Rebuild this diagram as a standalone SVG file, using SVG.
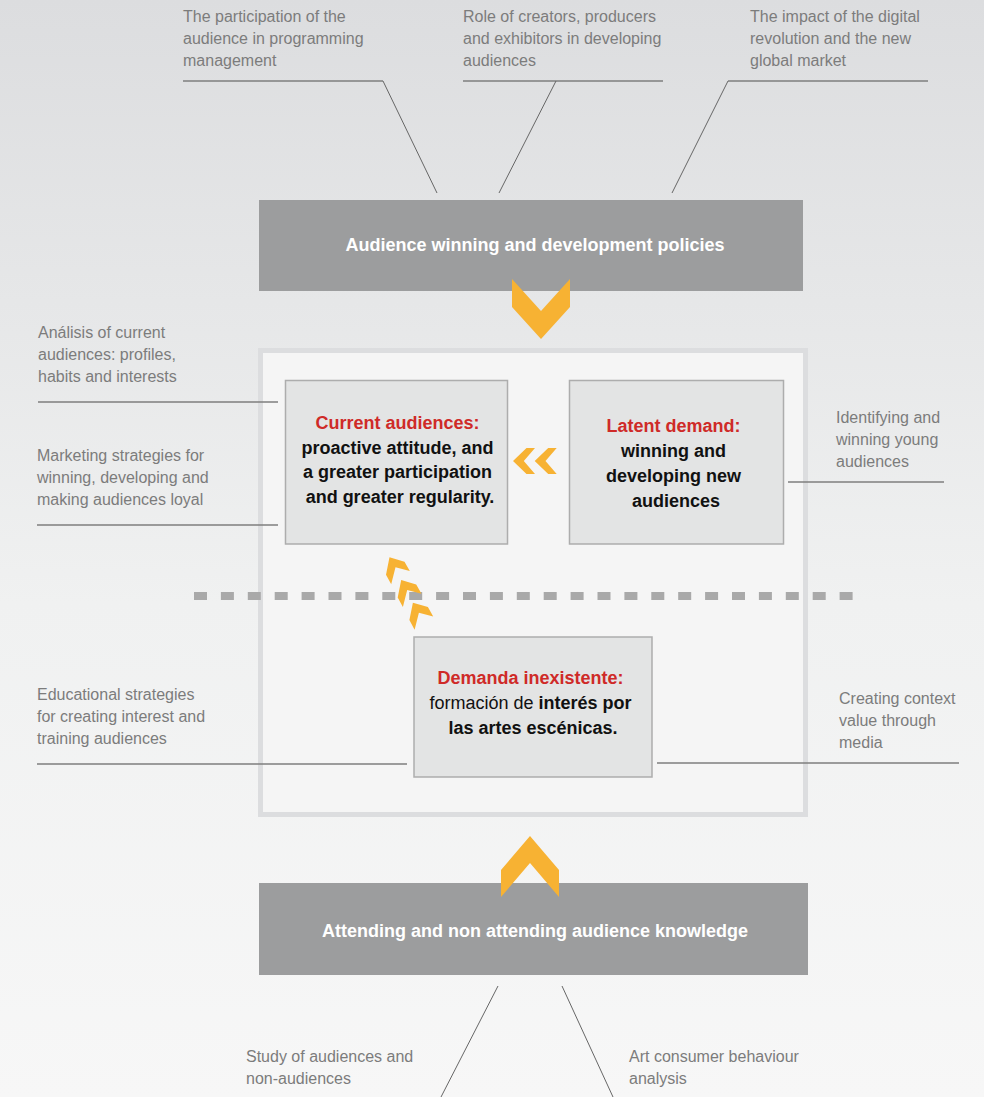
<svg xmlns="http://www.w3.org/2000/svg" width="984" height="1097" viewBox="0 0 984 1097">
<style>
.lbl{font-family:"Liberation Sans",Arial,sans-serif;font-size:16px;fill:#7c7c7c}
.bt{font-family:"Liberation Sans",Arial,sans-serif;font-size:18px;font-weight:bold;fill:#111}
.red{fill:#cf2a28}
.reg{font-weight:normal}
.wt{font-family:"Liberation Sans",Arial,sans-serif;font-size:18px;font-weight:bold;fill:#ffffff}
.ul{stroke:#7f7f7f;stroke-width:1.5;fill:none}
.dg{stroke:#666666;stroke-width:1;fill:none}
.gbox{fill:#9c9d9e}
.ibox{fill:#e3e4e4;stroke:#adadad;stroke-width:1.5}
.chev{fill:#f7b233}
</style>
<defs>
<linearGradient id="bg" x1="0" y1="0" x2="0" y2="1">
<stop offset="0" stop-color="#dcdddf"/>
<stop offset="0.55" stop-color="#f0f1f1"/>
<stop offset="1" stop-color="#f7f7f7"/>
</linearGradient>
</defs>
<rect x="0" y="0" width="984" height="1097" fill="url(#bg)"/>

<g id="container">
<rect x="260.5" y="350.5" width="545" height="464" fill="#f5f5f5" stroke="#dcdddf" stroke-width="5"/>
</g>

<g id="top-policies">
<rect class="gbox" x="259" y="200" width="544" height="91"/>
<text class="wt" x="535" y="251" text-anchor="middle">Audience winning and development policies</text>
</g>

<g id="bottom-knowledge">
<rect class="gbox" x="259" y="883" width="549" height="92"/>
<text class="wt" x="535" y="937" text-anchor="middle">Attending and non attending audience knowledge</text>
</g>

<g id="current-audiences">
<rect class="ibox" x="285.5" y="380.5" width="222" height="163.5"/>
<text class="bt" text-anchor="middle">
<tspan class="red" x="400" y="429">Current audiences:</tspan>
<tspan x="400" y="453.5">proactive attitude, and</tspan>
<tspan x="400" y="478">a greater participation</tspan>
<tspan x="400" y="502.5">and greater regularity.</tspan>
</text>
</g>

<g id="latent-demand">
<rect class="ibox" x="569.5" y="380.5" width="214" height="163.5"/>
<text class="bt" text-anchor="middle">
<tspan class="red" x="676" y="432">Latent demand:</tspan>
<tspan x="676" y="457">winning and</tspan>
<tspan x="676" y="482">developing new</tspan>
<tspan x="676" y="506.5">audiences</tspan>
</text>
</g>

<g id="demanda-inexistente">
<rect class="ibox" x="414" y="637" width="238" height="140"/>
<text class="bt" text-anchor="middle">
<tspan class="red" x="533" y="684">Demanda inexistente:</tspan>
<tspan x="533" y="709"><tspan class="reg">formación de </tspan>interés por</tspan>
<tspan x="533" y="733.5">las artes escénicas.</tspan>
</text>
</g>

<g id="label-participation">
<text class="lbl"><tspan x="183" y="22">The participation of the</tspan><tspan x="183" y="44">audience in programming</tspan><tspan x="183" y="66">management</tspan></text>
</g>
<g id="label-role">
<text class="lbl"><tspan x="463" y="22">Role of creators, producers</tspan><tspan x="463" y="44">and exhibitors in developing</tspan><tspan x="463" y="66">audiences</tspan></text>
</g>
<g id="label-impact">
<text class="lbl"><tspan x="750" y="22">The impact of the digital</tspan><tspan x="750" y="44">revolution and the new</tspan><tspan x="750" y="66">global market</tspan></text>
</g>
<g id="label-analisis">
<text class="lbl"><tspan x="38" y="338">Análisis of current</tspan><tspan x="38" y="360">audiences: profiles,</tspan><tspan x="38" y="382">habits and interests</tspan></text>
</g>
<g id="label-marketing">
<text class="lbl"><tspan x="37" y="461">Marketing strategies for</tspan><tspan x="37" y="483">winning, developing and</tspan><tspan x="37" y="505">making audiences loyal</tspan></text>
</g>
<g id="label-identifying">
<text class="lbl"><tspan x="836" y="423">Identifying and</tspan><tspan x="836" y="445">winning young</tspan><tspan x="836" y="467">audiences</tspan></text>
</g>
<g id="label-educational">
<text class="lbl"><tspan x="37" y="700">Educational strategies</tspan><tspan x="37" y="722">for creating interest and</tspan><tspan x="37" y="744">training audiences</tspan></text>
</g>
<g id="label-creating">
<text class="lbl"><tspan x="839" y="704">Creating context</tspan><tspan x="839" y="726">value through</tspan><tspan x="839" y="748">media</tspan></text>
</g>
<g id="label-study">
<text class="lbl"><tspan x="246" y="1062">Study of audiences and</tspan><tspan x="246" y="1084">non-audiences</tspan></text>
</g>
<g id="label-art">
<text class="lbl"><tspan x="629" y="1062">Art consumer behaviour</tspan><tspan x="629" y="1084">analysis</tspan></text>
</g>

<g id="connectors">
<path class="ul" d="M183 81H383M463 81H663M728 81H928"/>
<path class="dg" d="M383 81L437 193M556 81L499 193M728 81L672 193"/>
<path class="ul" d="M38 402H278M37 525H278M788 482H944M37 764H407M657 763H959"/>
<path class="dg" d="M498 986L441 1097M562 986L613 1097"/>
<line x1="194" y1="596" x2="853" y2="596" stroke="#a9a9a9" stroke-width="8" stroke-dasharray="13 13.9"/>
<polygon class="chev" points="512,279 541,311 570,279 570,307 541,339 512,307"/>
<polygon class="chev" points="530,836 559,870 559,897 530,863 501,897 501,870"/>
<polygon class="chev" points="526.5,448 535,448 523.8,461 535,474 526.5,474 513,461"/>
<polygon class="chev" points="548.2,448 556.7,448 545.5,461 556.7,474 548.2,474 534.7,461"/>
<g id="up-chevrons">
<polygon class="chev" transform="translate(389.5,557.3)" points="0,0 15,4.4 20.3,13.7 6,10 1.7,27 -3.5,17.4"/>
<polygon class="chev" transform="translate(401.2,580)" points="0,0 15,4.4 20.3,13.7 6,10 1.7,27 -3.5,17.4"/>
<polygon class="chev" transform="translate(412.9,602.7)" points="0,0 15,4.4 20.3,13.7 6,10 1.7,27 -3.5,17.4"/>
</g>
</g>
</svg>
